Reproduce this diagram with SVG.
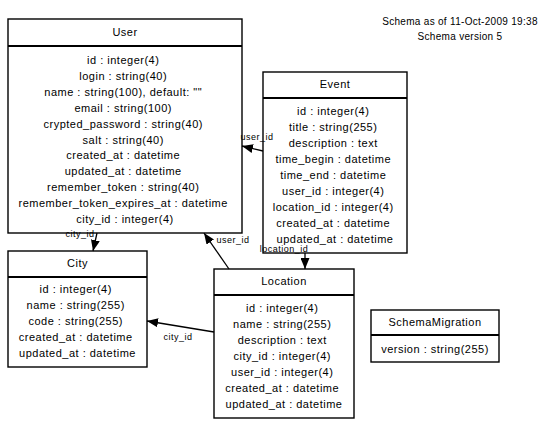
<svg xmlns="http://www.w3.org/2000/svg" width="556" height="425" viewBox="0 0 556 425">
<style>
.box{fill:#fff;stroke:#000;stroke-width:1.4}
.sep{stroke:#000;stroke-width:1.8}
text{font-family:"Liberation Sans",Arial,sans-serif;fill:#000}
.t{font-size:11px;letter-spacing:0.5px;text-anchor:middle}
.lbl{font-size:9px;letter-spacing:0.5px;text-anchor:middle}
.title{font-size:10px;letter-spacing:0.3px;text-anchor:middle}
.edge{fill:none;stroke:#000;stroke-width:1.3}
</style>
<defs>
<marker id="arr" markerUnits="userSpaceOnUse" markerWidth="12" markerHeight="9" refX="11" refY="4.5" orient="auto">
<path d="M0,0 L11,4.5 L0,9 z" fill="#000"/>
</marker>
</defs>
<rect width="556" height="425" fill="#fff"/>
<g id="title">
<text class="title" x="460" y="25">Schema as of 11-Oct-2009 19:38</text>
<text class="title" x="460" y="40">Schema version 5</text>
</g>
<g id="User">
<rect class="box" x="8" y="19" width="234" height="214"/>
<line class="sep" x1="8" y1="46" x2="242" y2="46"/>
<text class="t" x="125" y="36">User</text>
<text class="t" y="64">
<tspan x="125">id : integer(4)</tspan>
<tspan x="125" dy="15.9">login : string(40)</tspan>
<tspan x="125" dy="15.9">name : string(100), default: ""</tspan>
<tspan x="125" dy="15.9">email : string(100)</tspan>
<tspan x="125" dy="15.9">crypted_password : string(40)</tspan>
<tspan x="125" dy="15.9">salt : string(40)</tspan>
<tspan x="125" dy="15.9">created_at : datetime</tspan>
<tspan x="125" dy="15.9">updated_at : datetime</tspan>
<tspan x="125" dy="15.9">remember_token : string(40)</tspan>
<tspan x="125" dy="15.9">remember_token_expires_at : datetime</tspan>
<tspan x="125" dy="15.9">city_id : integer(4)</tspan>
</text>
</g>
<g id="Event">
<rect class="box" x="263" y="72" width="144" height="181"/>
<line class="sep" x1="263" y1="98" x2="407" y2="98"/>
<text class="t" x="335" y="88">Event</text>
<text class="t" y="115">
<tspan x="335">id : integer(4)</tspan>
<tspan x="335" dy="16">title : string(255)</tspan>
<tspan x="335" dy="16">description : text</tspan>
<tspan x="335" dy="16">time_begin : datetime</tspan>
<tspan x="335" dy="16">time_end : datetime</tspan>
<tspan x="335" dy="16">user_id : integer(4)</tspan>
<tspan x="335" dy="16">location_id : integer(4)</tspan>
<tspan x="335" dy="16">created_at : datetime</tspan>
<tspan x="335" dy="16">updated_at : datetime</tspan>
</text>
</g>
<g id="City">
<rect class="box" x="8" y="251" width="139" height="116"/>
<line class="sep" x1="8" y1="277" x2="147" y2="277"/>
<text class="t" x="77.5" y="267">City</text>
<text class="t" y="293">
<tspan x="77.5">id : integer(4)</tspan>
<tspan x="77.5" dy="16">name : string(255)</tspan>
<tspan x="77.5" dy="16">code : string(255)</tspan>
<tspan x="77.5" dy="16">created_at : datetime</tspan>
<tspan x="77.5" dy="16">updated_at : datetime</tspan>
</text>
</g>
<g id="Location">
<rect class="box" x="214" y="269" width="140" height="149"/>
<line class="sep" x1="214" y1="295" x2="354" y2="295"/>
<text class="t" x="284" y="285">Location</text>
<text class="t" y="312">
<tspan x="284">id : integer(4)</tspan>
<tspan x="284" dy="16">name : string(255)</tspan>
<tspan x="284" dy="16">description : text</tspan>
<tspan x="284" dy="16">city_id : integer(4)</tspan>
<tspan x="284" dy="16">user_id : integer(4)</tspan>
<tspan x="284" dy="16">created_at : datetime</tspan>
<tspan x="284" dy="16">updated_at : datetime</tspan>
</text>
</g>
<g id="SchemaMigration">
<rect class="box" x="371" y="310" width="128" height="52"/>
<line class="sep" x1="371" y1="335" x2="499" y2="335"/>
<text class="t" x="435" y="326">SchemaMigration</text>
<text class="t" x="435" y="353">version : string(255)</text>
</g>
<g id="connectors">
<path class="edge" d="M263,151 L242,146" marker-end="url(#arr)"/>
<text class="lbl" x="257" y="140">user_id</text>
<path class="edge" d="M97,233 L93,251" marker-end="url(#arr)"/>
<text class="lbl" x="80" y="237">city_id</text>
<path class="edge" d="M229,269 L204,233" marker-end="url(#arr)"/>
<text class="lbl" x="233" y="243">user_id</text>
<path class="edge" d="M305,253 L305,269" marker-end="url(#arr)"/>
<text class="lbl" x="284" y="252">location_id</text>
<path class="edge" d="M214,332 L147,321" marker-end="url(#arr)"/>
<text class="lbl" x="178" y="340">city_id</text>
</g>
</svg>
